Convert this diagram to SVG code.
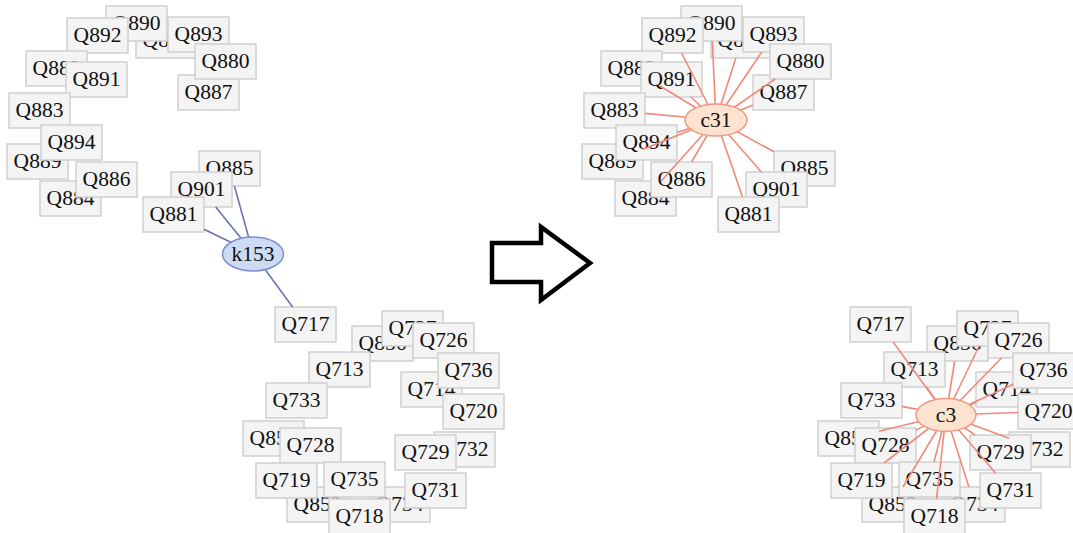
<svg xmlns="http://www.w3.org/2000/svg" width="1073" height="533" viewBox="0 0 1073 533">
<style>
.node rect{fill:#f4f4f4;stroke:#d0d0d0;stroke-width:1.5}
.node text,.hub text{font-family:"Liberation Serif","Times New Roman",serif;font-size:21.5px;text-anchor:middle;fill:#111}
.hubL ellipse{fill:#cddcf4;stroke:#7f91cc;stroke-width:1.5}
.hubR ellipse{fill:#fde2cf;stroke:#ec9a82;stroke-width:1.5}
.eL line{stroke:#6a74b4;stroke-width:1.6}
.eR line{stroke:#f08a7a;stroke-width:1.6}
</style>
<rect width="1073" height="533" fill="#ffffff"/>
<g id="left-nodes">
<g id="L-Q888" class="node"><rect x="136" y="23" width="61" height="35"/><text x="166.5" y="46.5">Q888</text></g>
<g id="L-Q890" class="node"><rect x="106" y="6" width="61" height="35"/><text x="136.5" y="29.5">Q890</text></g>
<g id="L-Q892" class="node"><rect x="67" y="18" width="61" height="35"/><text x="97.5" y="41.5">Q892</text></g>
<g id="L-Q893" class="node"><rect x="168" y="17" width="61" height="35"/><text x="198.5" y="40.5">Q893</text></g>
<g id="L-Q887" class="node"><rect x="178" y="75" width="61" height="35"/><text x="208.5" y="98.5">Q887</text></g>
<g id="L-Q880" class="node"><rect x="195" y="44" width="61" height="35"/><text x="225.5" y="67.5">Q880</text></g>
<g id="L-Q882" class="node"><rect x="26" y="51" width="61" height="35"/><text x="56.5" y="74.5">Q882</text></g>
<g id="L-Q891" class="node"><rect x="66" y="62" width="61" height="35"/><text x="96.5" y="85.5">Q891</text></g>
<g id="L-Q883" class="node"><rect x="9" y="93" width="61" height="35"/><text x="39.5" y="116.5">Q883</text></g>
<g id="L-Q889" class="node"><rect x="7" y="144" width="61" height="35"/><text x="37.5" y="167.5">Q889</text></g>
<g id="L-Q894" class="node"><rect x="41" y="125" width="61" height="35"/><text x="71.5" y="148.5">Q894</text></g>
<g id="L-Q884" class="node"><rect x="40" y="181" width="61" height="35"/><text x="70.5" y="204.5">Q884</text></g>
<g id="L-Q886" class="node"><rect x="76" y="162" width="61" height="35"/><text x="106.5" y="185.5">Q886</text></g>
<g id="L-Q885" class="node"><rect x="199" y="151" width="61" height="35"/><text x="229.5" y="174.5">Q885</text></g>
<g id="L-Q901" class="node"><rect x="171" y="172" width="61" height="35"/><text x="201.5" y="195.5">Q901</text></g>
<g id="L-Q881" class="node"><rect x="143" y="197" width="61" height="35"/><text x="173.5" y="220.5">Q881</text></g>
<g id="L-Q717" class="node"><rect x="275" y="307" width="61" height="35"/><text x="305.5" y="330.5">Q717</text></g>
<g id="L-Q856" class="node"><rect x="352" y="326" width="61" height="35"/><text x="382.5" y="349.5">Q856</text></g>
<g id="L-Q727" class="node"><rect x="382" y="311" width="61" height="35"/><text x="412.5" y="334.5">Q727</text></g>
<g id="L-Q726" class="node"><rect x="413" y="323" width="61" height="35"/><text x="443.5" y="346.5">Q726</text></g>
<g id="L-Q713" class="node"><rect x="309" y="352" width="61" height="35"/><text x="339.5" y="375.5">Q713</text></g>
<g id="L-Q714" class="node"><rect x="401" y="372" width="61" height="35"/><text x="431.5" y="395.5">Q714</text></g>
<g id="L-Q736" class="node"><rect x="438" y="353" width="61" height="35"/><text x="468.5" y="376.5">Q736</text></g>
<g id="L-Q720" class="node"><rect x="443" y="394" width="61" height="35"/><text x="473.5" y="417.5">Q720</text></g>
<g id="L-Q733" class="node"><rect x="266" y="383" width="61" height="35"/><text x="296.5" y="406.5">Q733</text></g>
<g id="L-Q857" class="node"><rect x="243" y="421" width="61" height="35"/><text x="273.5" y="444.5">Q857</text></g>
<g id="L-Q728" class="node"><rect x="280" y="428" width="61" height="35"/><text x="310.5" y="451.5">Q728</text></g>
<g id="L-Q732" class="node"><rect x="434" y="432" width="61" height="35"/><text x="464.5" y="455.5">Q732</text></g>
<g id="L-Q729" class="node"><rect x="395" y="435" width="61" height="35"/><text x="425.5" y="458.5">Q729</text></g>
<g id="L-Q852" class="node"><rect x="287" y="487" width="61" height="35"/><text x="317.5" y="510.5">Q852</text></g>
<g id="L-Q734" class="node"><rect x="369" y="487" width="61" height="35"/><text x="399.5" y="510.5">Q734</text></g>
<g id="L-Q719" class="node"><rect x="256" y="463" width="61" height="35"/><text x="286.5" y="486.5">Q719</text></g>
<g id="L-Q735" class="node"><rect x="324" y="462" width="61" height="35"/><text x="354.5" y="485.5">Q735</text></g>
<g id="L-Q731" class="node"><rect x="405" y="473" width="61" height="35"/><text x="435.5" y="496.5">Q731</text></g>
<g id="L-Q718" class="node"><rect x="329" y="499" width="61" height="35"/><text x="359.5" y="522.5">Q718</text></g>
</g>
<g id="right-nodes" transform="translate(575,0)">
<g id="R-Q888" class="node"><rect x="136" y="23" width="61" height="35"/><text x="166.5" y="46.5">Q888</text></g>
<g id="R-Q890" class="node"><rect x="106" y="6" width="61" height="35"/><text x="136.5" y="29.5">Q890</text></g>
<g id="R-Q892" class="node"><rect x="67" y="18" width="61" height="35"/><text x="97.5" y="41.5">Q892</text></g>
<g id="R-Q893" class="node"><rect x="168" y="17" width="61" height="35"/><text x="198.5" y="40.5">Q893</text></g>
<g id="R-Q887" class="node"><rect x="178" y="75" width="61" height="35"/><text x="208.5" y="98.5">Q887</text></g>
<g id="R-Q880" class="node"><rect x="195" y="44" width="61" height="35"/><text x="225.5" y="67.5">Q880</text></g>
<g id="R-Q882" class="node"><rect x="26" y="51" width="61" height="35"/><text x="56.5" y="74.5">Q882</text></g>
<g id="R-Q891" class="node"><rect x="66" y="62" width="61" height="35"/><text x="96.5" y="85.5">Q891</text></g>
<g id="R-Q883" class="node"><rect x="9" y="93" width="61" height="35"/><text x="39.5" y="116.5">Q883</text></g>
<g id="R-Q889" class="node"><rect x="7" y="144" width="61" height="35"/><text x="37.5" y="167.5">Q889</text></g>
<g id="R-Q894" class="node"><rect x="41" y="125" width="61" height="35"/><text x="71.5" y="148.5">Q894</text></g>
<g id="R-Q884" class="node"><rect x="40" y="181" width="61" height="35"/><text x="70.5" y="204.5">Q884</text></g>
<g id="R-Q886" class="node"><rect x="76" y="162" width="61" height="35"/><text x="106.5" y="185.5">Q886</text></g>
<g id="R-Q885" class="node"><rect x="199" y="151" width="61" height="35"/><text x="229.5" y="174.5">Q885</text></g>
<g id="R-Q901" class="node"><rect x="171" y="172" width="61" height="35"/><text x="201.5" y="195.5">Q901</text></g>
<g id="R-Q881" class="node"><rect x="143" y="197" width="61" height="35"/><text x="173.5" y="220.5">Q881</text></g>
<g id="R-Q717" class="node"><rect x="275" y="307" width="61" height="35"/><text x="305.5" y="330.5">Q717</text></g>
<g id="R-Q856" class="node"><rect x="352" y="326" width="61" height="35"/><text x="382.5" y="349.5">Q856</text></g>
<g id="R-Q727" class="node"><rect x="382" y="311" width="61" height="35"/><text x="412.5" y="334.5">Q727</text></g>
<g id="R-Q726" class="node"><rect x="413" y="323" width="61" height="35"/><text x="443.5" y="346.5">Q726</text></g>
<g id="R-Q713" class="node"><rect x="309" y="352" width="61" height="35"/><text x="339.5" y="375.5">Q713</text></g>
<g id="R-Q714" class="node"><rect x="401" y="372" width="61" height="35"/><text x="431.5" y="395.5">Q714</text></g>
<g id="R-Q736" class="node"><rect x="438" y="353" width="61" height="35"/><text x="468.5" y="376.5">Q736</text></g>
<g id="R-Q720" class="node"><rect x="443" y="394" width="61" height="35"/><text x="473.5" y="417.5">Q720</text></g>
<g id="R-Q733" class="node"><rect x="266" y="383" width="61" height="35"/><text x="296.5" y="406.5">Q733</text></g>
<g id="R-Q857" class="node"><rect x="243" y="421" width="61" height="35"/><text x="273.5" y="444.5">Q857</text></g>
<g id="R-Q728" class="node"><rect x="280" y="428" width="61" height="35"/><text x="310.5" y="451.5">Q728</text></g>
<g id="R-Q732" class="node"><rect x="434" y="432" width="61" height="35"/><text x="464.5" y="455.5">Q732</text></g>
<g id="R-Q729" class="node"><rect x="395" y="435" width="61" height="35"/><text x="425.5" y="458.5">Q729</text></g>
<g id="R-Q852" class="node"><rect x="287" y="487" width="61" height="35"/><text x="317.5" y="510.5">Q852</text></g>
<g id="R-Q734" class="node"><rect x="369" y="487" width="61" height="35"/><text x="399.5" y="510.5">Q734</text></g>
<g id="R-Q719" class="node"><rect x="256" y="463" width="61" height="35"/><text x="286.5" y="486.5">Q719</text></g>
<g id="R-Q735" class="node"><rect x="324" y="462" width="61" height="35"/><text x="354.5" y="485.5">Q735</text></g>
<g id="R-Q731" class="node"><rect x="405" y="473" width="61" height="35"/><text x="435.5" y="496.5">Q731</text></g>
<g id="R-Q718" class="node"><rect x="329" y="499" width="61" height="35"/><text x="359.5" y="522.5">Q718</text></g>
</g>
<g id="connectors">
<g class="eL">
<line x1="253" y1="253" x2="204" y2="229.3"/>
<line x1="253" y1="253" x2="215.7" y2="207"/>
<line x1="253" y1="253" x2="234.4" y2="186"/>
<line x1="253" y1="253" x2="292.6" y2="307"/>
</g>
<g class="eR">
<line x1="716" y1="120" x2="735.9" y2="58"/>
<line x1="716" y1="120" x2="712.3" y2="41"/>
<line x1="716" y1="120" x2="681.5" y2="53"/>
<line x1="716" y1="120" x2="761.7" y2="52"/>
<line x1="716" y1="120" x2="753" y2="104.9"/>
<line x1="716" y1="120" x2="775.2" y2="79"/>
<line x1="716" y1="120" x2="660" y2="86"/>
<line x1="716" y1="120" x2="690.7" y2="97"/>
<line x1="716" y1="120" x2="645" y2="113.4"/>
<line x1="716" y1="120" x2="643" y2="149.3"/>
<line x1="716" y1="120" x2="677" y2="132.6"/>
<line x1="716" y1="120" x2="661.2" y2="181"/>
<line x1="716" y1="120" x2="691.6" y2="162"/>
<line x1="716" y1="120" x2="774" y2="151.8"/>
<line x1="716" y1="120" x2="761.3" y2="172"/>
<line x1="716" y1="120" x2="742.5" y2="197"/>
<line x1="946" y1="415" x2="893.2" y2="342"/>
<line x1="946" y1="415" x2="954.7" y2="361"/>
<line x1="946" y1="415" x2="979.1" y2="346"/>
<line x1="946" y1="415" x2="1001.5" y2="358"/>
<line x1="946" y1="415" x2="926.6" y2="387"/>
<line x1="946" y1="415" x2="976" y2="402.4"/>
<line x1="946" y1="415" x2="1013" y2="384.4"/>
<line x1="946" y1="415" x2="1018" y2="412.5"/>
<line x1="946" y1="415" x2="902" y2="406.4"/>
<line x1="946" y1="415" x2="879" y2="431.2"/>
<line x1="946" y1="415" x2="916" y2="430.1"/>
<line x1="946" y1="415" x2="1009" y2="438.2"/>
<line x1="946" y1="415" x2="975.1" y2="435"/>
<line x1="946" y1="415" x2="903" y2="487"/>
<line x1="946" y1="415" x2="968.9" y2="487"/>
<line x1="946" y1="415" x2="884.1" y2="463"/>
<line x1="946" y1="415" x2="934" y2="462"/>
<line x1="946" y1="415" x2="995.5" y2="473"/>
<line x1="946" y1="415" x2="936.5" y2="499"/>
</g>
</g>
<g id="k153" class="hub hubL"><ellipse cx="253" cy="254" rx="30.5" ry="17"/><text x="253" y="261">k153</text></g>
<g id="c31" class="hub hubR"><ellipse cx="716" cy="120" rx="31" ry="16"/><text x="716" y="127">c31</text></g>
<g id="c3" class="hub hubR"><ellipse cx="946" cy="415" rx="30" ry="16.5"/><text x="946" y="422">c3</text></g>
<g id="arrow"><polygon points="492,243 541,243 541,227 590,263 541,300 541,282 492,282" fill="#ffffff" stroke="#000000" stroke-width="4.5" stroke-linejoin="miter"/></g>
</svg>
